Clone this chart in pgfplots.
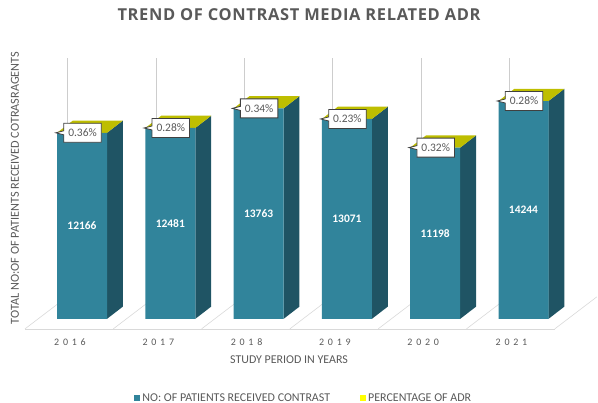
\documentclass[border=0pt]{standalone}
\usepackage{pgfplots}
\pgfplotsset{compat=1.18}
\usepackage{pgfplotstable}
\usepackage{fontspec}
\setmainfont{Carlito}
\newfontfamily\titlefont[LetterSpace=4]{Open Sans}
\newfontfamily\tickfont[LetterSpace=38]{Carlito}
\usetikzlibrary{shapes.callouts}
\definecolor{front}{RGB}{49,132,155}
\definecolor{side}{RGB}{31,84,100}
\definecolor{topy}{RGB}{190,190,0}
\definecolor{ylw}{RGB}{255,255,0}
\definecolor{txt}{RGB}{89,89,89}
\definecolor{floorc}{RGB}{217,217,217}
\definecolor{lead}{RGB}{205,205,205}
\definecolor{cborder}{RGB}{64,64,64}

\pgfplotstableread{
i n p
0 12166 0.36
1 12481 0.28
2 13763 0.34
3 13071 0.23
4 11198 0.32
5 14244 0.28
}\datatable

\begin{document}
\begin{tikzpicture}
\begin{axis}[
  x=88.3bp, y=0.0153bp,
  xmin=-0.9287, xmax=5.8437, ymin=-5490, ymax=20850,
  axis line style={draw=none},
  major tick length=0pt,
  xtick={0,1,2,3,4,5},
  xticklabels={2016,2017,2018,2019,2020,2021},
  xticklabel style={font=\tickfont\fontsize{10}{12}\selectfont, text=txt, anchor=center, xshift=-12bp, yshift=61bp},
  ytick=\empty,
  clip=false,
  title={TREND OF CONTRAST MEDIA RELATED ADR},
  title style={at={(axis description cs:0.5,0.95)}, anchor=center, font=\titlefont\bfseries\fontsize{16.5}{19}\selectfont, text=txt},
  xlabel={STUDY PERIOD IN YEARS},
  xlabel style={at={(axis description cs:0.4833,0.1067)}, anchor=center, font=\fontsize{12}{14}\selectfont, text=txt},
  ylabel={TOTAL NO:OF OF PATIENTS RECEIVED COTRASRAGENTS},
  ylabel style={at={(axis description cs:0.025,0.5335)}, anchor=center, font=\fontsize{12.3}{14}\selectfont, text=txt},
  legend columns=2,
  legend style={at={(axis description cs:0.508,0.012)}, anchor=center, draw=none, fill=none,
    font=\fontsize{12}{14}\selectfont, text=txt,
    /tikz/every even column/.append style={column sep=28bp}},
  legend image code/.code={\fill[#1, draw=none] (0bp,-3bp) rectangle (6bp,3bp);},
]
% floor
\draw[floorc, line width=0.6bp] (axis cs:-0.6455,-654) -- (axis cs:5.3545,-654);
\draw[floorc, line width=0.6bp] (axis cs:-0.6455,-654) -- (axis cs:-0.1698,1438);
\draw[floorc, line width=0.6bp] (axis cs:0.3545,-654) -- (axis cs:0.8302,1438);
\draw[floorc, line width=0.6bp] (axis cs:1.3545,-654) -- (axis cs:1.8302,1438);
\draw[floorc, line width=0.6bp] (axis cs:2.3545,-654) -- (axis cs:2.8302,1438);
\draw[floorc, line width=0.6bp] (axis cs:3.3545,-654) -- (axis cs:3.8302,1438);
\draw[floorc, line width=0.6bp] (axis cs:4.3545,-654) -- (axis cs:4.8302,1438);
\draw[floorc, line width=0.6bp] (axis cs:5.3545,-654) -- (axis cs:5.8302,1438);
% leader lines
\draw[lead, line width=0.8bp] (axis cs:-0.162,12786) -- (axis cs:-0.162,17060);
\draw[lead, line width=0.8bp] (axis cs:0.838,13101) -- (axis cs:0.838,17060);
\draw[lead, line width=0.8bp] (axis cs:1.838,14383) -- (axis cs:1.838,17060);
\draw[lead, line width=0.8bp] (axis cs:2.838,13691) -- (axis cs:2.838,17060);
\draw[lead, line width=0.8bp] (axis cs:3.838,11818) -- (axis cs:3.838,17060);
\draw[lead, line width=0.8bp] (axis cs:4.838,14864) -- (axis cs:4.838,17060);
% side faces
\addplot[fill=side, draw=none, forget plot] coordinates {(0.283,0) (0.463,800) (0.463,12966) (0.283,12166)} --cycle;
\addplot[fill=side, draw=none, forget plot] coordinates {(1.283,0) (1.463,800) (1.463,13281) (1.283,12481)} --cycle;
\addplot[fill=side, draw=none, forget plot] coordinates {(2.283,0) (2.463,800) (2.463,14563) (2.283,13763)} --cycle;
\addplot[fill=side, draw=none, forget plot] coordinates {(3.283,0) (3.463,800) (3.463,13871) (3.283,13071)} --cycle;
\addplot[fill=side, draw=none, forget plot] coordinates {(4.283,0) (4.463,800) (4.463,11998) (4.283,11198)} --cycle;
\addplot[fill=side, draw=none, forget plot] coordinates {(5.283,0) (5.463,800) (5.463,15044) (5.283,14244)} --cycle;
% top faces (percentage of ADR segment)
\addplot[fill=topy, draw=none, forget plot] coordinates {(-0.283,12166) (0.283,12166) (0.463,12966) (-0.103,12966)} --cycle;
\addplot[fill=topy, draw=none, forget plot] coordinates {(0.717,12481) (1.283,12481) (1.463,13281) (0.897,13281)} --cycle;
\addplot[fill=topy, draw=none, forget plot] coordinates {(1.717,13763) (2.283,13763) (2.463,14563) (1.897,14563)} --cycle;
\addplot[fill=topy, draw=none, forget plot] coordinates {(2.717,13071) (3.283,13071) (3.463,13871) (2.897,13871)} --cycle;
\addplot[fill=topy, draw=none, forget plot] coordinates {(3.717,11198) (4.283,11198) (4.463,11998) (3.897,11998)} --cycle;
\addplot[fill=topy, draw=none, forget plot] coordinates {(4.717,14244) (5.283,14244) (5.463,15044) (4.897,15044)} --cycle;
% front faces
\addplot[ybar, bar width=50bp, bar shift=0pt, fill=front, draw=none, forget plot] table[x=i, y=n] {\datatable};
% count labels
\addplot[draw=none, mark=none, forget plot, point meta=explicit symbolic,
  nodes near coords={\pgfplotspointmeta},
  every node near coord/.append style={font=\bfseries\fontsize{11.5}{13}\selectfont, text=white, anchor=center}]
  table[x=i, y expr=\thisrow{n}/2, meta=n] {\datatable};
% percentage callouts
\addplot[draw=none, mark=none, forget plot, point meta=explicit symbolic,
  nodes near coords={\pgfplotspointmeta\%},
  every node near coord/.append style={rectangle callout, draw=cborder, line width=0.8bp, fill=white, text=txt,
    font=\fontsize{11.5}{13}\selectfont, anchor=center, xshift=0.5bp, minimum height=19bp,
    inner xsep=4.5bp, inner ysep=2bp, callout relative pointer={(-8bp,0bp)}, callout pointer width=4bp}]
  table[x=i, y=n, meta=p] {\datatable};
\addlegendimage{fill=front}
\addlegendentry{NO: OF PATIENTS RECEIVED CONTRAST}
\addlegendimage{fill=ylw}
\addlegendentry{PERCENTAGE OF ADR}
\end{axis}
\pgfresetboundingbox
\path (current axis.south west) rectangle (current axis.north east);
\end{tikzpicture}
\end{document}
